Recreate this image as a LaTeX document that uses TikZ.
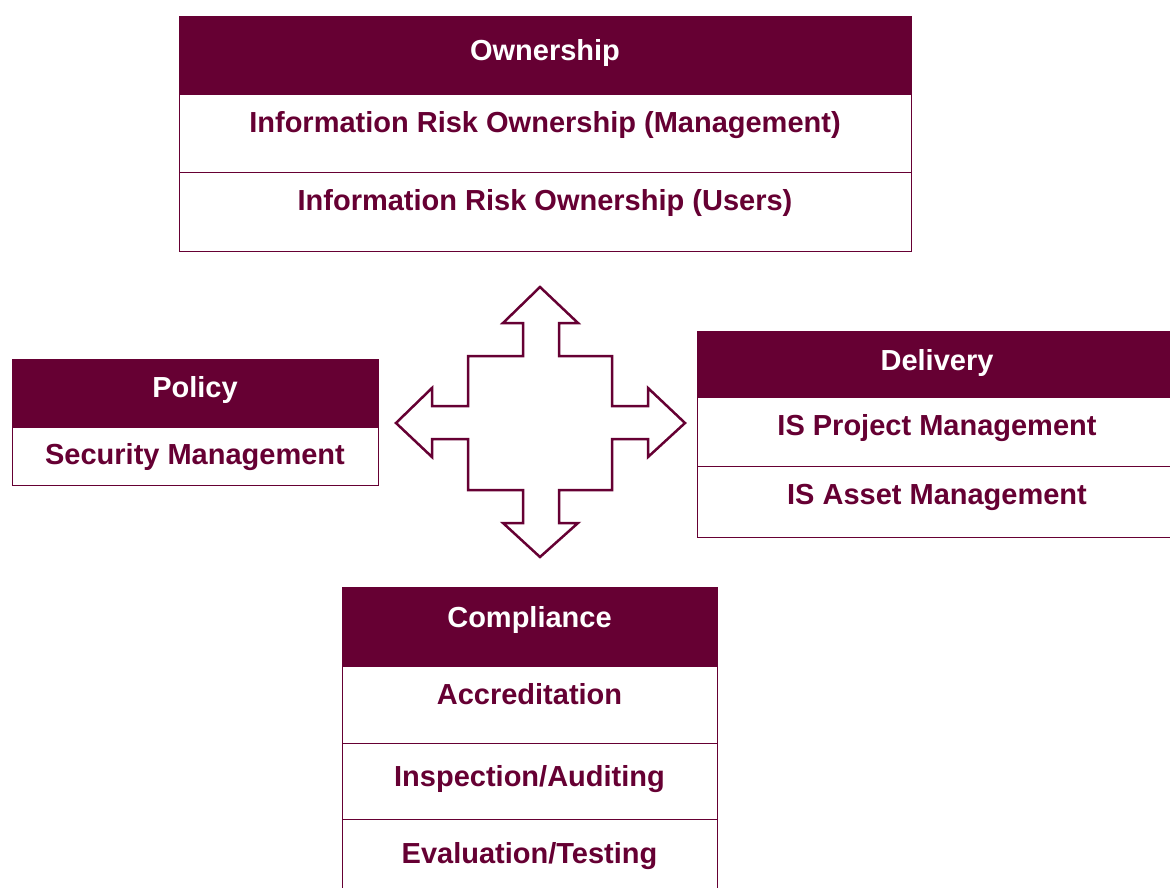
\documentclass[tikz,border=0pt]{standalone}
\usepackage{fontspec}
\setmainfont{Liberation Sans}
\usetikzlibrary{positioning}
\definecolor{maroon}{HTML}{660033}
\tikzset{
    hdrbox/.style={draw=maroon, fill=maroon, text=white, line width=1pt,
        inner sep=0pt, outer sep=0pt, font=\bfseries\fontsize{29}{33}\selectfont},
    rowbox/.style={draw=maroon, fill=white, text=maroon, line width=1pt,
        inner sep=0pt, outer sep=0pt, font=\bfseries\fontsize{29}{33}\selectfont},
    crossarrow/.style={draw=maroon, line width=2.5pt, line join=miter, fill=white}
}
\begin{document}
\begin{tikzpicture}[x=1pt,y=1pt,yscale=-1,xscale=1]
    \useasboundingbox (0,0) rectangle (1170,887);

    % Ownership
    \node[hdrbox, anchor=north west, minimum width=732pt, text height=44pt, text depth=34pt] (own) at (179,16) {Ownership};
    \node[rowbox, below=0pt of own, minimum width=732pt, text height=38pt, text depth=40pt] (ownmgmt) {Information Risk Ownership (Management)};
    \node[rowbox, below=0pt of ownmgmt, minimum width=732pt, text height=38pt, text depth=41pt] (ownusers) {Information Risk Ownership (Users)};

    % Policy
    \node[hdrbox, anchor=north west, minimum width=366pt, text height=38pt, text depth=30pt] (pol) at (12,359) {Policy};
    \node[rowbox, below=0pt of pol, minimum width=366pt, text height=37pt, text depth=21pt] (polsec) {Security Management};

    % Delivery
    \node[hdrbox, anchor=north west, minimum width=480pt, text height=39pt, text depth=27pt] (del) at (697,331) {Delivery};
    \node[rowbox, below=0pt of del, minimum width=480pt, text height=38pt, text depth=31pt] (delproj) {IS Project Management};
    \node[rowbox, below=0pt of delproj, minimum width=480pt, text height=38pt, text depth=33pt] (delasset) {IS Asset Management};

    % Compliance
    \node[hdrbox, anchor=north west, minimum width=375pt, text height=40pt, text depth=39pt] (comp) at (342,587) {Compliance};
    \node[rowbox, below=0pt of comp, minimum width=375pt, text height=38pt, text depth=39pt] (compacc) {Accreditation};
    \node[rowbox, below=0pt of compacc, minimum width=375pt, text height=43pt, text depth=33pt] (compinsp) {Inspection/Auditing};
    \node[rowbox, below=0pt of compinsp, minimum width=375pt, text height=44pt, text depth=36pt] (compeval) {Evaluation/Testing};

    % Four-way arrow
    \draw[crossarrow] (540,287) -- (578,323) -- (559,323) -- (559,356) -- (612,356) -- (612,406)
        -- (648,406) -- (648,388) -- (685,423) -- (648,457) -- (648,439) -- (612,439)
        -- (612,490) -- (559,490) -- (559,523) -- (578,523) -- (540,557) -- (503,523)
        -- (523,523) -- (523,490) -- (468,490) -- (468,439) -- (432,439) -- (432,457)
        -- (396,423) -- (432,388) -- (432,406) -- (468,406) -- (468,356) -- (523,356)
        -- (523,323) -- (503,323) -- cycle;

\end{tikzpicture}
\end{document}
